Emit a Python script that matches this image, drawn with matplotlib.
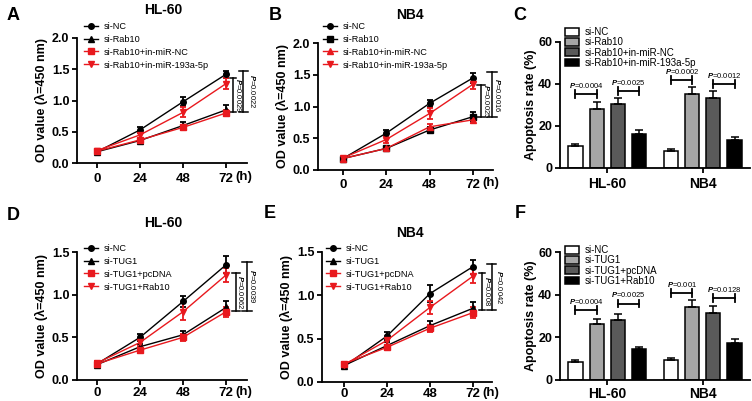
import matplotlib
matplotlib.use("Agg")
import matplotlib.pyplot as plt
from matplotlib.lines import Line2D
import numpy as np

plt.rcParams['font.family'] = 'Liberation Sans'
plt.rcParams['mathtext.fontset'] = 'custom'
plt.rcParams['mathtext.it'] = 'Liberation Sans:italic:bold'
plt.rcParams['mathtext.rm'] = 'Liberation Sans:bold'

W, H = 752, 401

# ========== Data ==========
hours = [0, 24, 48, 72]

# A: HL-60, Rab10 / miR-193a-5p
a_labels = ["si-NC", "si-Rab10", "si-Rab10+in-miR-NC", "si-Rab10+in-miR-193a-5p"]
a_vals = [[0.18, 0.53, 0.98, 1.42],
          [0.18, 0.36, 0.60, 0.85],
          [0.19, 0.37, 0.57, 0.80],
          [0.20, 0.45, 0.81, 1.27]]
a_errs = [[0.02, 0.05, 0.07, 0.06],
          [0.02, 0.03, 0.05, 0.08],
          [0.02, 0.03, 0.04, 0.05],
          [0.02, 0.06, 0.08, 0.09]]
a_pvals = ["0.0022", "0.0029"]

# B: NB4, Rab10 / miR-193a-5p
b_labels = ["si-NC", "si-Rab10", "si-Rab10+in-miR-NC", "si-Rab10+in-miR-193a-5p"]
b_vals = [[0.18, 0.58, 1.05, 1.45],
          [0.18, 0.34, 0.63, 0.84],
          [0.18, 0.34, 0.68, 0.79],
          [0.19, 0.48, 0.89, 1.35]]
b_errs = [[0.02, 0.05, 0.06, 0.08],
          [0.02, 0.02, 0.05, 0.07],
          [0.02, 0.02, 0.05, 0.05],
          [0.02, 0.05, 0.08, 0.08]]
b_pvals = ["0.0016", "0.0025"]

# D: HL-60, TUG1 / Rab10
d_labels = ["si-NC", "si-TUG1", "si-TUG1+pcDNA", "si-TUG1+Rab10"]
d_vals = [[0.19, 0.50, 0.92, 1.35],
          [0.18, 0.39, 0.53, 0.85],
          [0.19, 0.35, 0.50, 0.80],
          [0.20, 0.44, 0.80, 1.23]]
d_errs = [[0.02, 0.04, 0.07, 0.10],
          [0.02, 0.03, 0.05, 0.08],
          [0.02, 0.03, 0.04, 0.06],
          [0.02, 0.04, 0.10, 0.08]]
d_pvals = ["0.0039", "0.0062"]

# E: NB4, TUG1 / Rab10
e_labels = ["si-NC", "si-TUG1", "si-TUG1+pcDNA", "si-TUG1+Rab10"]
e_vals = [[0.18, 0.53, 1.02, 1.33],
          [0.19, 0.42, 0.65, 0.85],
          [0.21, 0.40, 0.62, 0.80],
          [0.20, 0.48, 0.86, 1.22]]
e_errs = [[0.02, 0.05, 0.10, 0.08],
          [0.02, 0.04, 0.05, 0.07],
          [0.02, 0.03, 0.04, 0.06],
          [0.02, 0.05, 0.07, 0.08]]
e_pvals = ["0.0042", "0.008"]

# C / F: apoptosis rate (%)
cells = ["HL-60", "NB4"]
c_labels = ["si-NC", "si-Rab10", "si-Rab10+in-miR-NC", "si-Rab10+in-miR-193a-5p"]
c_vals = [[10.3, 28.2, 30.3, 16.2], [8.2, 35.2, 33.3, 13.3]]
c_errs = [[1.2, 3.4, 2.8, 1.9], [1.0, 3.5, 3.2, 1.6]]
c_pvals = [["0.0004", "0.0025"], ["0.0002", "0.0012"]]

f_labels = ["si-NC", "si-TUG1", "si-TUG1+pcDNA", "si-TUG1+Rab10"]
f_vals = [[8.5, 26.3, 28.3, 14.3], [9.3, 34.3, 31.4, 17.3]]
f_errs = [[0.9, 2.5, 2.6, 1.3], [0.8, 3.2, 3.3, 1.9]]
f_pvals = [["0.0004", "0.0025"], ["0.001", "0.0128"]]

RED = "#e8191e"
BAR_COLORS = ["white", "#a6a6a6", "#5a5a5a", "black"]


def px_axes(fig, left, right, top, bottom):
    return fig.add_axes([left / W, 1 - bottom / H, (right - left) / W, (bottom - top) / H])


def style_axes(ax, pad):
    for s in ["top", "right"]:
        ax.spines[s].set_visible(False)
    for s in ["left", "bottom"]:
        ax.spines[s].set_linewidth(1.3)
    ax.tick_params(width=1.3, length=3.5, labelsize=9)
    ax.tick_params(axis="x", pad=pad)
    ax.tick_params(axis="y", pad=2)
    for lab in ax.get_xticklabels() + ax.get_yticklabels():
        lab.set_fontweight("bold")


def p_text(p):
    return r"$\mathit{P}$=" + p


def line_panel(ax, vals, errs, labels, markers, colors, ymax, brackets, legend_xy, pad):
    handles = []
    for v, e, lab, m, c in zip(vals, errs, labels, markers, colors):
        ax.errorbar(hours, v, yerr=e, color=c, marker=m, markersize=4, lw=1,
                    elinewidth=1.3, capsize=2.5, capthick=1.3, clip_on=False)
        handles.append(Line2D([], [], color=c, marker=m, markersize=4, lw=1, label=lab))
    ax.set_ylim(0, ymax)
    ticks = np.arange(0, ymax + 0.01, 0.5)
    ax.set_yticks(ticks)
    ax.set_yticklabels([f"{t:.1f}" for t in ticks])
    ax.set_xticks(hours)
    ax.set_xticklabels([str(h) for h in hours])
    ax.set_ylabel("OD value (λ=450 nm)", fontsize=9, fontweight="bold", labelpad=3)
    style_axes(ax, pad)
    ax.tick_params(axis="x", labelsize=9.5)
    ax.annotate("(h)", xy=(72, 0), xytext=(7, -(3.5 + pad) * 0.72 - 0.5),
                textcoords="offset points", fontsize=9.5, fontweight="bold",
                ha="left", va="top", annotation_clip=False)
    # significance brackets
    for (x, y0, y1, cap, tx, p) in brackets:
        ax.plot([x, x], [y0, y1], color="black", lw=1.1, clip_on=False)
        for yy in (y0, y1):
            ax.plot([x - cap, x + cap], [yy, yy], color="black", lw=1.1, clip_on=False)
        ax.text(tx, (y0 + y1) / 2, p_text(p), rotation=-90, fontsize=5.5,
                ha="center", va="center", clip_on=False)
    ax.legend(handles=handles, loc="upper left",
              bbox_to_anchor=(legend_xy[0] / W, 1 - legend_xy[1] / H),
              bbox_transform=ax.figure.transFigure, frameon=False, fontsize=6.6,
              handlelength=1.5, handletextpad=0.6, labelspacing=0.42, borderpad=0,
              borderaxespad=0)


def bar_panel(ax, vals, errs, labels, pvals, bracket_y, legend_xy, pad):
    width = 0.146
    step = 0.219
    offsets = (np.arange(4) - 1.5) * step
    for i in range(4):
        xs = np.arange(2) + offsets[i]
        ys = [vals[g][i] for g in range(2)]
        es = [errs[g][i] for g in range(2)]
        ax.bar(xs, ys, width=width, color=BAR_COLORS[i], edgecolor="black",
               lw=1.1, label=labels[i], zorder=2)
        ax.errorbar(xs, ys, yerr=[[0, 0], es], fmt="none", ecolor="black",
                    elinewidth=1.1, capsize=3, capthick=1.1, zorder=3)
    # P-value brackets between bar 1-2 and 3-4
    for g in range(2):
        for k, (i, j) in enumerate([(0, 1), (2, 3)]):
            x0, x1 = g + offsets[i], g + offsets[j]
            y = bracket_y[g][k]
            ax.plot([x0, x1], [y, y], color="black", lw=1.3)
            for xx in (x0, x1):
                ax.plot([xx, xx], [y - 1.8, y + 1.8], color="black", lw=1.3)
            ax.text((x0 + x1) / 2, y + 2.0, p_text(pvals[g][k]), fontsize=5.5,
                    ha="center", va="bottom")
    ax.set_xlim(-0.49, 1.49)
    ax.set_ylim(0, 60)
    ax.set_yticks([0, 20, 40, 60])
    ax.set_xticks([0, 1])
    ax.set_xticklabels(cells)
    ax.set_ylabel("Apoptosis rate (%)", fontsize=9, fontweight="bold", labelpad=1)
    style_axes(ax, pad)
    ax.tick_params(axis="x", labelsize=10)
    ax.legend(loc="upper left", bbox_to_anchor=(legend_xy[0] / W, 1 - legend_xy[1] / H),
              bbox_transform=ax.figure.transFigure, frameon=False, fontsize=7,
              handlelength=1.4, handleheight=0.85, handletextpad=0.6, labelspacing=0.03,
              borderpad=0, borderaxespad=0)


fig = plt.figure(figsize=(W / 100, H / 100), dpi=100)

blk_red = ["black", "black", RED, RED]

axA = px_axes(fig, 77, 247, 38, 163)
axA.set_xlim(-11.2, 83.7)
line_panel(axA, a_vals, a_errs, a_labels, ["o", "^", "s", "v"], blk_red, 2.0,
           [(81.5, 0.81, 1.48, 2.5, 86.8, a_pvals[0]), (75.9, 0.81, 1.36, 1.8, 78.9, a_pvals[1])],
           (84, 22), 4)

axB = px_axes(fig, 318, 493, 43, 170)
axB.set_xlim(-13.8, 83.1)
line_panel(axB, b_vals, b_errs, b_labels, ["o", "s", "^", "v"], blk_red, 2.0,
           [(82.5, 0.83, 1.54, 2.8, 85.8, b_pvals[0]), (76.4, 0.83, 1.34, 2.0, 79.6, b_pvals[1])],
           (323, 22), 3)

axC = px_axes(fig, 560, 750, 42, 168)
bar_panel(axC, c_vals, c_errs, c_labels, c_pvals, [[35.2, 36.7], [41.9, 39.9]], (565, 27), 3)

axD = px_axes(fig, 77, 247, 252, 380)
axD.set_xlim(-11.2, 83.7)
line_panel(axD, d_vals, d_errs, d_labels, ["o", "^", "s", "v"], blk_red, 1.5,
           [(83.5, 0.81, 1.38, 2.8, 87.0, d_pvals[0]), (77.6, 0.81, 1.25, 2.2, 80.2, d_pvals[1])],
           (84, 244), 1.5)

axE = px_axes(fig, 322, 492, 252, 382)
axE.set_xlim(-12.3, 82.7)
line_panel(axE, e_vals, e_errs, e_labels, ["o", "^", "s", "v"], blk_red, 1.5,
           [(82.5, 0.83, 1.36, 2.6, 86.8, e_pvals[0]), (77.2, 0.83, 1.26, 1.5, 80.2, e_pvals[1])],
           (326, 244), 1.0)

axF = px_axes(fig, 560, 750, 252, 380)
bar_panel(axF, f_vals, f_errs, f_labels, f_pvals, [[32.7, 35.8], [40.7, 38.3]], (565, 245), 1.5)

# titles and panel letters
for x, y, t in [(163, 10, "HL-60"), (410, 15, "NB4"), (163, 223, "HL-60"), (410, 233, "NB4")]:
    fig.text(x / W, 1 - y / H, t, fontsize=10, fontweight="bold", ha="center", va="center")
for x, y, t in [(13, 15, "A"), (275, 15, "B"), (520, 15, "C"),
                (13, 215, "D"), (270, 213, "E"), (520, 213, "F")]:
    fig.text(x / W, 1 - y / H, t, fontsize=13, fontweight="bold", ha="center", va="center")

fig.savefig("out.png", dpi=100)
